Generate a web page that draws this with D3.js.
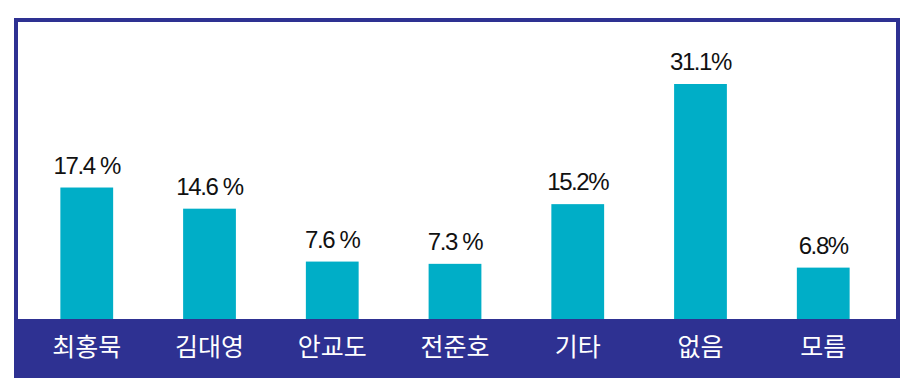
<!DOCTYPE html>
<html>
<head>
<meta charset="utf-8">
<script src="https://cdn.jsdelivr.net/npm/d3@7"></script>
<style>
  body { margin: 0; background: #fff; }
  svg { display: block; }
</style>
</head>
<body>
<div id="chart"></div>
<script>
const candidates = ['최홍묵', '김대영', '안교도', '전준호', '기타', '없음', '모름'];
const shares = [17.4, 14.6, 7.6, 7.3, 15.2, 31.1, 6.8];
const shareLabels = ['17.4 %', '14.6 %', '7.6 %', '7.3 %', '15.2%', '31.1%', '6.8%'];

const width = 913;
const height = 391;
const frame = {left: 14, top: 18, right: 900, bottom: 378, stroke: 4};
const bandTop = 319;

const svg = d3.select('#chart')
  .append('svg')
  .attr('width', width)
  .attr('height', height);

// x: categories
const x = d3.scaleBand()
  .domain(candidates)
  .range([26, 884])
  .paddingInner(0.57)
  .paddingOuter(0.28);

// y: percent, baseline sits at band top
const y = d3.scaleLinear()
  .domain([0, 31.1])
  .range([bandTop, 84]);

const rows = candidates.map((c, i) => ({name: c, value: shares[i], label: shareLabels[i]}));

// bars
svg.append('g')
  .selectAll('rect')
  .data(rows)
  .enter()
  .append('rect')
  .attr('x', (d) => x(d.name))
  .attr('y', (d) => y(d.value))
  .attr('width', x.bandwidth())
  .attr('height', (d) => bandTop - y(d.value))
  .style('fill', '#00aec7');

// value labels
svg.append('g')
  .selectAll('text')
  .data(rows)
  .enter()
  .append('text')
  .attr('x', (d) => x(d.name) + x.bandwidth() / 2)
  .attr('y', (d) => y(d.value) - 14)
  .attr('text-anchor', 'middle')
  .style('font-family', '"Liberation Sans", Arial, sans-serif')
  .style('font-size', '24px')
  .style('letter-spacing', '-1.4px')
  .style('fill', '#111')
  .text((d) => d.label);

// bottom band with category names
svg.append('rect')
  .attr('x', frame.left)
  .attr('y', bandTop)
  .attr('width', frame.right - frame.left)
  .attr('height', frame.bottom - bandTop)
  .style('fill', '#2e3192');

const xAxis = d3.axisBottom(x).tickSize(0).tickPadding(0);
const axisG = svg.append('g')
  .attr('transform', 'translate(0,' + bandTop + ')')
  .call(xAxis);
axisG.select('.domain').remove();
axisG.selectAll('text')
  .attr('y', 28)
  .attr('dy', '0.35em')
  .style('font-family', '"Noto Sans CJK KR", sans-serif')
  .style('font-size', '25px')
  .style('fill', '#fff');

// frame
svg.append('rect')
  .attr('x', frame.left + frame.stroke / 2)
  .attr('y', frame.top + frame.stroke / 2)
  .attr('width', frame.right - frame.left - frame.stroke)
  .attr('height', frame.bottom - frame.top - frame.stroke)
  .style('fill', 'none')
  .style('stroke', '#2e3192')
  .style('stroke-width', frame.stroke);
</script>
</body>
</html>
